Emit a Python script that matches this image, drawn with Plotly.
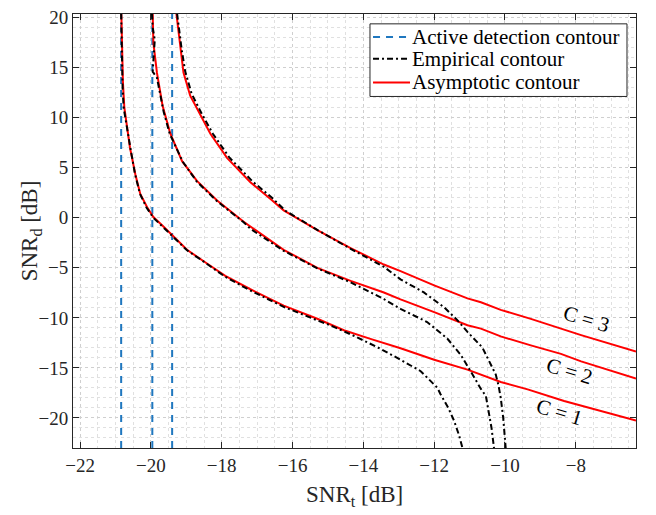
import plotly.graph_objects as go

# ---------------- data ----------------
active_x = [-20.84, -19.96, -19.40]
y_span = [-23.0, 20.4]

# Asymptotic contours (red)
asym1_x = [-20.835, -20.82, -20.79, -20.75, -20.68, -20.59, -20.44, -20.30, -20.11, -19.93, -19.64, -19.36,
           -18.98, -18.51, -17.90, -17.19, -16.25, -15.30, -14.55, -13.80, -12.95, -12.00, -11.06, -10.12,
           -9.36, -8.33, -7.30, -6.30]
asym1_y = [20.4, 17.0, 13.5, 11.0, 9.0, 6.98, 4.35, 2.38, 1.07, 0.08, -0.90, -1.88,
           -3.20, -4.34, -5.80, -7.14, -8.77, -10.09, -11.23, -12.10, -13.04, -14.18, -15.17, -16.40,
           -17.14, -18.30, -19.30, -20.26]

asym2_x = [-19.95, -19.93, -19.83, -19.67, -19.45, -19.12, -18.70, -18.13, -17.38, -16.63, -16.25, -15.30,
           -14.36, -13.42, -12.95, -12.00, -11.06, -10.68, -10.12, -9.27, -8.42, -7.85, -6.30]
asym2_y = [20.4, 17.5, 14.5, 11.2, 8.4, 5.66, 3.69, 1.72, -0.40, -2.30, -3.20, -5.00,
           -6.30, -7.46, -8.15, -9.43, -10.74, -11.07, -11.85, -12.75, -13.60, -14.35, -16.05]

asym3_x = [-19.28, -19.17, -19.08, -18.89, -18.60, -18.32, -17.85, -17.19, -16.63, -16.25, -15.30, -14.36,
           -13.42, -12.95, -12.00, -11.06, -10.68, -10.12, -9.27, -8.42, -7.85, -6.30]
asym3_y = [20.4, 16.8, 14.5, 12.2, 10.26, 8.4, 5.99, 3.55, 1.90, 0.74, -1.23, -3.03,
           -4.67, -5.33, -6.75, -8.05, -8.44, -9.20, -10.10, -11.10, -11.72, -13.37]

# Empirical contours (black)
emp1_x = [-20.84, -20.83, -20.82, -20.80, -20.77, -20.68, -20.58, -20.45, -20.31, -20.12, -19.93, -19.65,
          -19.37, -18.98, -18.50, -17.90, -17.20, -16.25, -15.30, -14.93, -14.20, -13.51, -12.95, -12.38,
          -11.91, -11.82, -11.60, -11.44, -11.30, -11.20]
emp1_y = [20.4, 18.5, 15.0, 13.0, 11.0, 9.0, 7.0, 4.4, 2.4, 1.0, 0.0, -0.95,
          -1.95, -3.25, -4.40, -5.90, -7.25, -8.90, -10.25, -10.74, -11.90, -13.10, -14.18, -15.33,
          -16.98, -17.63, -19.00, -20.26, -21.70, -23.0]

emp2_x = [-19.97, -19.95, -19.89, -19.92, -19.95, -19.83, -19.75, -19.64, -19.47, -19.40, -19.30, -19.10,
          -18.70, -18.13, -17.38, -17.19, -16.25, -15.30, -14.36, -13.42, -12.95, -12.66, -12.20, -11.63,
          -11.25, -10.97, -10.68, -10.54, -10.45, -10.38, -10.31]
emp2_y = [20.4, 19.0, 17.8, 16.0, 14.6, 14.0, 12.5, 10.6, 8.4, 7.9, 7.2, 5.6,
          3.6, 1.65, -0.45, -1.10, -3.30, -5.05, -6.45, -8.12, -9.10, -9.60, -10.41, -12.06,
          -13.69, -15.33, -17.10, -17.80, -19.50, -21.00, -23.0]

emp3_x = [-19.26, -19.20, -19.13, -19.03, -18.85, -18.55, -18.25, -17.78, -17.12, -16.58, -16.20, -15.28,
          -14.36, -13.42, -12.95, -12.29, -11.72, -11.34, -11.06, -10.64, -10.40, -10.26, -10.18, -10.12,
          -10.05, -9.98]
emp3_y = [20.4, 18.5, 16.8, 14.6, 12.4, 10.3, 8.4, 6.0, 3.6, 2.0, 0.7, -1.25,
          -3.10, -4.90, -6.15, -7.46, -8.94, -10.25, -11.40, -12.95, -14.70, -15.66, -16.80, -18.00,
          -20.00, -23.0]

label_text = ["C = 3", "C = 2", "C = 1"]
label_x = [-7.70, -8.19, -8.47]
label_y = [-10.09, -15.35, -19.44]

legend_names = ["Active detection contour", "Empirical contour", "Asymptotic contour"]

# ---------------- styles ----------------
FONT = "Liberation Serif, Times New Roman, serif"
BLUE = "#1f77bf"
AXC = "#262626"
BLUE_DASH = "7px,6px"
BLACK_DASH = "6px,3px,2px,3px"
legend_styles = [(BLUE, BLUE_DASH), ("#000000", BLACK_DASH), ("#ff0000", "solid")]

fig = go.Figure()

for i, vx in enumerate(active_x):
    fig.add_trace(go.Scatter(x=[vx, vx], y=y_span, mode="lines",
                             line=dict(color=BLUE, width=2, dash=BLUE_DASH),
                             name=legend_names[0], showlegend=False))

for i, (xs, ys) in enumerate([(asym1_x, asym1_y), (asym2_x, asym2_y), (asym3_x, asym3_y)]):
    fig.add_trace(go.Scatter(x=xs, y=ys, mode="lines",
                             line=dict(color="#ff0000", width=2),
                             name=legend_names[2], showlegend=False))

for i, (xs, ys) in enumerate([(emp1_x, emp1_y), (emp2_x, emp2_y), (emp3_x, emp3_y)]):
    fig.add_trace(go.Scatter(x=xs, y=ys, mode="lines",
                             line=dict(color="#000000", width=2, dash=BLACK_DASH),
                             name=legend_names[1], showlegend=False))

annotations = []
for t, ax_, ay_ in zip(label_text, label_x, label_y):
    annotations.append(dict(x=ax_, y=ay_, xref="x", yref="y", text=t, showarrow=False,
                            textangle=17, font=dict(family=FONT, size=21, color="#000000")))

annotations.append(dict(x=0.5, y=-0.11, xref="paper", yref="paper",
                        text="SNR<sub>t</sub> [dB]", showarrow=False,
                        xanchor="center", yanchor="middle",
                        font=dict(family=FONT, size=23, color=AXC)))
annotations.append(dict(x=-0.074, y=0.5, xref="paper", yref="paper",
                        text="SNR<sub>d</sub> [dB]", showarrow=False, textangle=-90,
                        xanchor="center", yanchor="middle",
                        font=dict(family=FONT, size=23, color=AXC)))

# ---- legend box drawn in paper coordinates ----
shapes = [dict(type="rect", xref="paper", yref="paper", x0=0.5275, x1=0.984, y0=0.810, y1=0.9773,
               fillcolor="white", line=dict(color=AXC, width=1), layer="above")]
row_y = [0.9469, 0.8969, 0.8424]
for (col, dsh), ry, name in zip(legend_styles, row_y, legend_names):
    shapes.append(dict(type="line", xref="paper", yref="paper", x0=0.5329, x1=0.5986, y0=ry, y1=ry,
                       line=dict(color=col, width=2, dash=dsh), layer="above"))
    annotations.append(dict(x=0.5990, y=ry, xref="paper", yref="paper", text=name, showarrow=False,
                            xanchor="left", yanchor="middle",
                            font=dict(family=FONT, size=21, color="#000000")))

axis_common = dict(
    showline=True, linecolor=AXC, linewidth=1, mirror="ticks",
    ticks="inside", ticklen=6, tickcolor=AXC, tickwidth=1,
    showgrid=True, gridcolor="#cfcfcf", griddash="dot", gridwidth=1,
    zeroline=False,
    tickfont=dict(family=FONT, size=19, color=AXC),
)

fig.update_layout(
    width=656, height=515,
    margin=dict(l=73, r=20, t=7, b=67),
    plot_bgcolor="white", paper_bgcolor="white",
    showlegend=False,
    annotations=annotations,
    shapes=shapes,
    xaxis=dict(range=[-22.2, -6.3], tick0=-22, dtick=2,
               minor=dict(dtick=0.5, tick0=-22, showgrid=True, gridcolor="#e0e0e0",
                          griddash="dot", ticks=""),
               **axis_common),
    yaxis=dict(range=[-23.0, 20.36], tick0=-20, dtick=5,
               minor=dict(dtick=1, tick0=-20, showgrid=True, gridcolor="#e0e0e0",
                          griddash="dot", ticks=""),
               **axis_common),
)

fig.write_html("out.html")
